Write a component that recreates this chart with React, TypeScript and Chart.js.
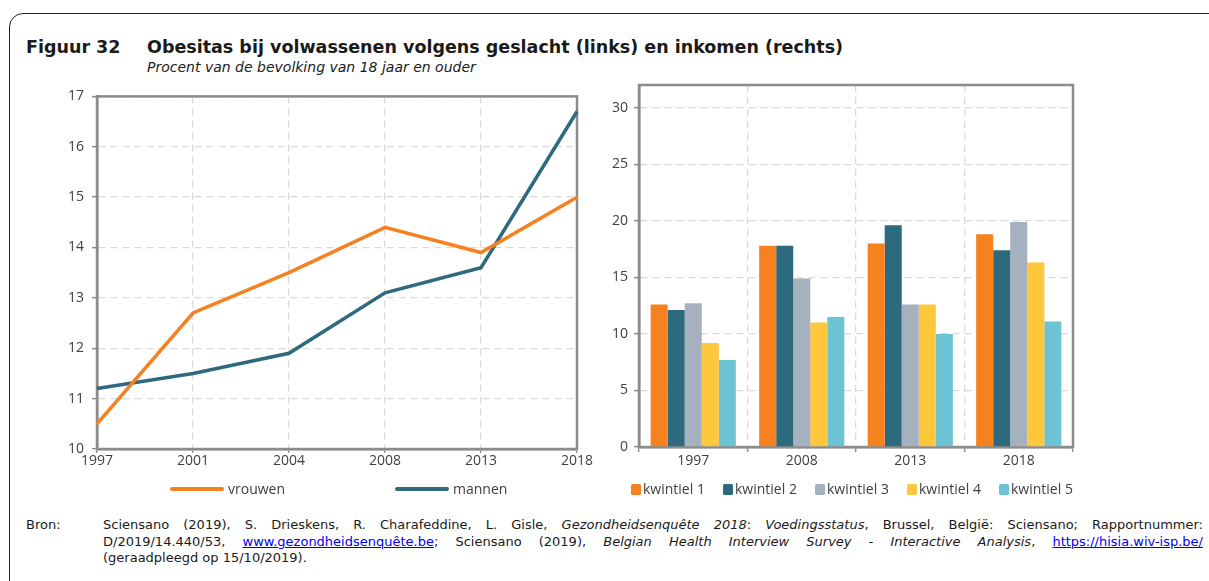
import React, { useEffect, useRef } from 'react';
import { Chart, registerables } from 'chart.js';

Chart.register(...registerables);

// ---- data ----
const lineYears = ['1997', '2001', '2004', '2008', '2013', '2018'];
const vrouwen = [10.5, 12.7, 13.5, 14.4, 13.9, 15.0];
const mannen = [11.2, 11.5, 11.9, 13.1, 13.6, 16.7];
const lineSeriesNames = ['vrouwen', 'mannen'];

const barYears = ['1997', '2008', '2013', '2018'];
const kwintiel1 = [12.6, 17.8, 18.0, 18.8];
const kwintiel2 = [12.1, 17.8, 19.6, 17.4];
const kwintiel3 = [12.7, 14.9, 12.6, 19.9];
const kwintiel4 = [9.2, 11.0, 12.6, 16.3];
const kwintiel5 = [7.7, 11.5, 10.0, 11.1];
const barSeriesNames = ['kwintiel 1', 'kwintiel 2', 'kwintiel 3', 'kwintiel 4', 'kwintiel 5'];

// ---- styles ----
const ORANGE = '#F5821F';
const TEAL = '#2D6A7E';
const GREYBLUE = '#A6B1BF';
const YELLOW = '#FFC73C';
const LIGHTBLUE = '#6CC3D4';
const lineColors = [ORANGE, TEAL];
const barColors = [ORANGE, TEAL, GREYBLUE, YELLOW, LIGHTBLUE];
const AXIS = '#8c8c8c';
const GRID = '#d9d9d9';
const TEXT = '#404040';
const FONT = "'Open Sans', 'DejaVu Sans', sans-serif";
const TFONT = "'DejaVu Sans', sans-serif";

const framePlugin = {
  id: 'frame',
  beforeDatasetsDraw(chart: any) {
    const { ctx, chartArea: a } = chart;
    ctx.save();
    ctx.strokeStyle = AXIS;
    ctx.lineWidth = 2.5;
    ctx.strokeRect(a.left, a.top, a.right - a.left, a.bottom - a.top);
    ctx.restore();
  },
};

function LineChart() {
  const ref = useRef<HTMLCanvasElement>(null);
  useEffect(() => {
    const chart = new Chart(ref.current!, {
      type: 'line',
      data: {
        labels: lineYears,
        datasets: [vrouwen, mannen].map((d, i) => ({
          label: lineSeriesNames[i],
          data: d,
          borderColor: lineColors[i],
          backgroundColor: lineColors[i],
          borderWidth: 3.5,
          pointRadius: 0,
          tension: 0,
          fill: false,
        })),
      },
      options: {
        responsive: false,
        animation: false,
        layout: { padding: { left: 0, right: 23, top: 14, bottom: 0 } },
        plugins: { legend: { display: false }, tooltip: { enabled: false } },
        scales: {
          x: {
            type: 'category',
            offset: false,
            grid: { color: GRID, lineWidth: 1.3, tickColor: AXIS, tickLength: 4, tickWidth: 1.5 },
            border: { display: true, color: AXIS, width: 2.5, dash: [7, 5] },
            ticks: { color: TEXT, font: { family: FONT, size: 14 }, padding: 0, maxRotation: 0, autoSkip: false },
            afterFit: (s: any) => { s.height = 31; },
          },
          y: {
            min: 10,
            max: 17,
            ticks: { stepSize: 1, color: TEXT, font: { family: FONT, size: 14 }, padding: 8 },
            grid: { color: GRID, lineWidth: 1.3, tickColor: AXIS, tickLength: 5, tickWidth: 1.5 },
            border: { display: true, color: AXIS, width: 2.5, dash: [7, 5] },
            afterFit: (s: any) => { s.width = 57; },
          },
        },
      },
      plugins: [framePlugin],
    } as any);
    return () => chart.destroy();
  }, []);
  return <canvas ref={ref} width={560} height={400} style={{ position: 'absolute', left: 40, top: 80 }} />;
}

function BarChart() {
  const ref = useRef<HTMLCanvasElement>(null);
  useEffect(() => {
    const chart = new Chart(ref.current!, {
      type: 'bar',
      data: {
        labels: barYears,
        datasets: [kwintiel1, kwintiel2, kwintiel3, kwintiel4, kwintiel5].map((d, i) => ({
          label: barSeriesNames[i],
          data: d,
          backgroundColor: barColors[i],
          borderWidth: 0,
          categoryPercentage: 0.785,
          barPercentage: 1.0,
        })),
      },
      options: {
        responsive: false,
        animation: false,
        layout: { padding: { left: 0, right: 136, top: 15, bottom: 0 } },
        plugins: { legend: { display: false }, tooltip: { enabled: false } },
        scales: {
          x: {
            grid: { offset: true, color: GRID, lineWidth: 1.3, tickColor: AXIS, tickLength: 5, tickWidth: 1.5 },
            border: { display: true, color: AXIS, width: 2.5, dash: [7, 5] },
            ticks: { color: TEXT, font: { family: FONT, size: 14 }, padding: 1, maxRotation: 0 },
            afterFit: (s: any) => { s.height = 33; },
          },
          y: {
            min: 0,
            max: 32,
            ticks: { stepSize: 5, color: TEXT, font: { family: FONT, size: 14 }, padding: 6 },
            afterBuildTicks: (axis: any) => { axis.ticks = axis.ticks.filter((t: any) => t.value % 5 === 0); },
            grid: { color: GRID, lineWidth: 1.3, tickColor: AXIS, tickLength: 5, tickWidth: 1.5 },
            border: { display: true, color: AXIS, width: 2.5, dash: [7, 5] },
            afterFit: (s: any) => { s.width = 39; },
          },
        },
      },
      plugins: [framePlugin],
    } as any);
    return () => chart.destroy();
  }, []);
  return <canvas ref={ref} width={609} height={410} style={{ position: 'absolute', left: 600, top: 70 }} />;
}

const legendText: React.CSSProperties = { fontFamily: FONT, fontSize: 14, color: TEXT, whiteSpace: 'nowrap', lineHeight: '18px' };
const link: React.CSSProperties = { color: '#0000ee', textDecoration: 'underline' };

export default function App() {
  return (
    <div style={{ position: 'absolute', left: 0, top: 0, width: 1209, height: 581, overflow: 'hidden', background: '#fff', fontFamily: TFONT }}>
      <div style={{ position: 'absolute', left: 9, top: 13, width: 1230, height: 620, border: '1.5px solid #222', borderRadius: 14, boxSizing: 'border-box' }} />
      <div style={{ position: 'absolute', left: 26, top: 35, fontWeight: 700, fontSize: 17.5, color: '#1a1a1a', whiteSpace: 'nowrap', lineHeight: '24px' }}>Figuur 32</div>
      <div style={{ position: 'absolute', left: 147, top: 35, fontWeight: 700, fontSize: 17.5, color: '#1a1a1a', whiteSpace: 'nowrap', lineHeight: '24px' }}>
        Obesitas bij volwassenen volgens geslacht (links) en inkomen (rechts)
      </div>
      <div style={{ position: 'absolute', left: 147, top: 58, fontStyle: 'italic', fontSize: 14, color: '#1a1a1a', whiteSpace: 'nowrap', lineHeight: '18px' }}>
        Procent van de bevolking van 18 jaar en ouder
      </div>

      <LineChart />
      <BarChart />

      {/* left legend */}
      <div style={{ position: 'absolute', left: 170, top: 480, display: 'flex' }}>
        {lineSeriesNames.map((n, i) => (
          <div key={n} style={{ width: 225, display: 'flex', alignItems: 'center' }}>
            <div style={{ width: 54, height: 4, borderRadius: 2, background: lineColors[i], marginRight: 4 }} />
            <span style={legendText}>{n}</span>
          </div>
        ))}
      </div>
      {/* right legend */}
      <div style={{ position: 'absolute', left: 631, top: 480, display: 'flex' }}>
        {barSeriesNames.map((n, i) => (
          <div key={n} style={{ width: 92, display: 'flex', alignItems: 'center' }}>
            <div style={{ width: 10, height: 11, borderRadius: 1.5, background: barColors[i], marginRight: 2 }} />
            <span style={legendText}>{n}</span>
          </div>
        ))}
      </div>

      {/* source */}
      <div style={{ position: 'absolute', left: 26, top: 517, fontSize: 13, lineHeight: '16.5px', color: '#1a1a1a' }}>Bron:</div>
      <div style={{ position: 'absolute', left: 103, top: 517, width: 1100, fontSize: 13, lineHeight: '16.5px', color: '#1a1a1a' }}>
        <div style={{ textAlign: 'justify', textAlignLast: 'justify', whiteSpace: 'nowrap' as any }}>
          Sciensano (2019), S. Drieskens, R. Charafeddine, L. Gisle, <i>Gezondheidsenquête 2018</i>: <i>Voedingsstatus</i>, Brussel, België: Sciensano; Rapportnummer:
        </div>
        <div style={{ textAlign: 'justify', textAlignLast: 'justify' }}>
          D/2019/14.440/53, <span style={link}>www.gezondheidsenquête.be</span>; Sciensano (2019), <i>Belgian Health Interview Survey - Interactive Analysis</i>, <span style={link}>https://hisia.wiv-isp.be/</span>
        </div>
        <div>(geraadpleegd op 15/10/2019).</div>
      </div>
    </div>
  );
}
